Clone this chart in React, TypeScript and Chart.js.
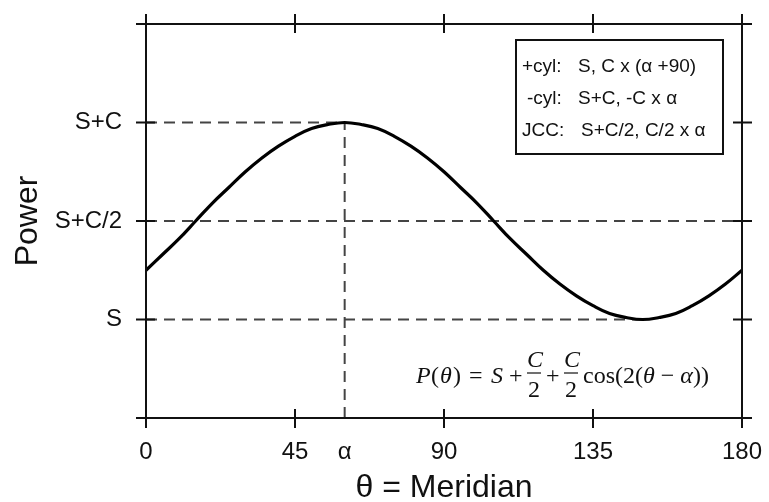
import { useEffect, useRef } from "react";
import { Chart, registerables } from "chart.js";

Chart.register(...registerables);

// Meridian angle (degrees) and power (S = 0, C = 1)
const thetaDeg = [0, 5, 10, 15, 20, 25, 30, 35, 40, 45, 50, 55, 60, 65, 70, 75, 80, 85, 90, 95, 100, 105, 110, 115, 120, 125, 130, 135, 140, 145, 150, 155, 160, 165, 170, 175, 180];
const powerValues = [0.25, 0.33, 0.41, 0.5, 0.59, 0.67, 0.75, 0.82, 0.88, 0.93, 0.97, 0.99, 1.0, 0.99, 0.97, 0.93, 0.88, 0.82, 0.75, 0.67, 0.59, 0.5, 0.41, 0.33, 0.25, 0.18, 0.12, 0.07, 0.03, 0.01, 0.0, 0.01, 0.03, 0.07, 0.12, 0.18, 0.25];

const xTickValues = [0, 45, 60, 90, 135, 180];
const xTickLabels = ["0", "45", "α", "90", "135", "180"];
const xMarkValues = [0, 45, 90, 135, 180];
const yTickValues = [0, 0.5, 1];
const yTickLabels = ["S", "S+C/2", "S+C"];
const yMarkValues = [-0.5, 0, 0.5, 1, 1.5];

// dashed reference lines
const refFull = [{ x: 0, y: 1 }, { x: 60, y: 1 }];
const refHalf = [{ x: 0, y: 0.5 }, { x: 180, y: 0.5 }];
const refSphere = [{ x: 0, y: 0 }, { x: 150, y: 0 }];
const refAlpha = [{ x: 60, y: -0.5 }, { x: 60, y: 1 }];

const legendLabels = ["+cyl:", "-cyl:", "JCC:"];
const legendValues = ["S, C x (α +90)", "S+C, -C x α", "S+C/2, C/2 x α"];

const INK = "#111";

const framePlugin = {
  id: "framePlugin",
  afterDraw(chart: any) {
    const { ctx, scales } = chart;
    const xs = scales.x;
    const ys = scales.y;
    const l = xs.getPixelForValue(0);
    const r = xs.getPixelForValue(180);
    const t = ys.getPixelForValue(1.5);
    const b = ys.getPixelForValue(-0.5);
    ctx.save();
    ctx.strokeStyle = INK;
    ctx.lineWidth = 2;
    ctx.setLineDash([]);
    ctx.strokeRect(l, t, r - l, b - t);
    ctx.beginPath();
    for (const v of xMarkValues) {
      const px = xs.getPixelForValue(v);
      ctx.moveTo(px, b - 9);
      ctx.lineTo(px, b + 10);
      ctx.moveTo(px, t - 10);
      ctx.lineTo(px, t + 9);
    }
    for (const v of yMarkValues) {
      const py = ys.getPixelForValue(v);
      ctx.moveTo(l - 10, py);
      ctx.lineTo(l + 9, py);
      ctx.moveTo(r - 9, py);
      ctx.lineTo(r + 10, py);
    }
    ctx.stroke();

    // legend box
    const bx = 516, by = 40, bw = 207, bh = 114;
    ctx.fillStyle = "#fff";
    ctx.fillRect(bx, by, bw, bh);
    ctx.lineWidth = 2;
    ctx.strokeRect(bx, by, bw, bh);
    ctx.fillStyle = INK;
    ctx.font = '19px "Liberation Sans", Arial, sans-serif';
    ctx.textBaseline = "middle";
    ctx.textAlign = "left";
    const rowsY = [67, 99, 131];
    const labX = [522, 527, 522];
    const valX = [578, 578, 581];
    for (let i = 0; i < legendLabels.length; i++) {
      ctx.fillText(legendLabels[i], labX[i], rowsY[i]);
      ctx.fillText(legendValues[i], valX[i], rowsY[i]);
    }

    // formula
    const base = 383;
    const it = 'italic 24px "Liberation Serif", "Times New Roman", serif';
    const rm = '24px "Liberation Serif", "Times New Roman", serif';
    ctx.textBaseline = "alphabetic";
    const put = (s: string, x: number, italic: boolean, y = base, align: CanvasTextAlign = "left") => {
      ctx.font = italic ? it : rm;
      ctx.textAlign = align;
      ctx.fillText(s, x, y);
    };
    put("P", 416, true);
    put("(", 431, false);
    put("θ", 440, true);
    put(")", 453, false);
    put("=", 469, false);
    put("S", 491, true);
    put("+", 509, false);
    const frac = (cx: number) => {
      put("C", cx + 1, true, 367, "center");
      put("2", cx, false, 397, "center");
      ctx.beginPath();
      ctx.lineWidth = 1.2;
      ctx.moveTo(cx - 7, 373);
      ctx.lineTo(cx + 7, 373);
      ctx.stroke();
    };
    frac(534);
    put("+", 546, false);
    frac(571);
    let x = 583;
    const seq: [string, boolean][] = [["cos(2(", false], ["θ", true], [" − ", false], ["α", true], ["))", false]];
    for (const [s, i] of seq) {
      ctx.font = i ? it : rm;
      ctx.textAlign = "left";
      ctx.fillText(s, x, base);
      x += ctx.measureText(s).width;
    }
    ctx.restore();
  },
};

export default function App() {
  const ref = useRef<HTMLCanvasElement | null>(null);
  useEffect(() => {
    if (!ref.current) return;
    const line = (data: { x: number; y: number }[]) => ({
      data,
      borderColor: "#444",
      borderWidth: 2,
      borderDash: [11, 7],
      pointRadius: 0,
      tension: 0,
      fill: false,
    });
    const chart = new Chart(ref.current, {
      type: "line",
      data: {
        datasets: [
          {
            data: thetaDeg.map((t, i) => ({ x: t, y: powerValues[i] })),
            borderColor: "#000",
            borderWidth: 3.2,
            pointRadius: 0,
            tension: 0.4,
            fill: false,
          } as any,
          line(refFull),
          line(refHalf),
          line(refSphere),
          line(refAlpha),
        ],
      },
      options: {
        responsive: false,
        animation: false,
        events: [],
        layout: { padding: { left: 0, top: 24, right: 27, bottom: 0 } },
        plugins: { legend: { display: false }, tooltip: { enabled: false } },
        scales: {
          x: {
            type: "linear",
            min: 0,
            max: 180,
            afterBuildTicks: (s: any) => {
              s.ticks = xTickValues.map((v) => ({ value: v }));
            },
            afterFit: (s: any) => {
              s.height = 84;
              s.paddingLeft = 0;
              s.paddingRight = 0;
            },
            grid: { display: false, drawTicks: false },
            border: { display: false },
            ticks: {
              autoSkip: false,
              maxRotation: 0,
              padding: 20,
              color: INK,
              font: { family: '"Liberation Sans", Arial, sans-serif', size: 24 },
              callback: (_v: any, i: number) => xTickLabels[i],
            },
            title: {
              display: true,
              text: "θ = Meridian",
              color: INK,
              font: { family: '"Liberation Sans", Arial, sans-serif', size: 32, lineHeight: 0.9 },
              padding: { top: 0, bottom: -1 },
            },
          },
          y: {
            type: "linear",
            min: -0.5,
            max: 1.5,
            afterBuildTicks: (s: any) => {
              s.ticks = yTickValues.map((v) => ({ value: v }));
            },
            afterFit: (s: any) => {
              s.width = 146;
              s.paddingTop = 0;
              s.paddingBottom = 0;
            },
            grid: { display: false, drawTicks: false },
            border: { display: false },
            ticks: {
              padding: 24,
              color: INK,
              font: { family: '"Liberation Sans", Arial, sans-serif', size: 24 },
              callback: (_v: any, i: number) => yTickLabels[i],
            },
            title: {
              display: true,
              text: "Power",
              color: INK,
              font: { family: '"Liberation Sans", Arial, sans-serif', size: 32, lineHeight: 0.9 },
              padding: { top: 14, bottom: 0 },
            },
          },
        },
      },
      plugins: [framePlugin],
    });
    return () => chart.destroy();
  }, []);
  return (
    <div style={{ position: "absolute", left: 0, top: 0, width: 769, height: 502, background: "#fff" }}>
      <canvas ref={ref} width={769} height={502} style={{ display: "block" }} />
    </div>
  );
}
